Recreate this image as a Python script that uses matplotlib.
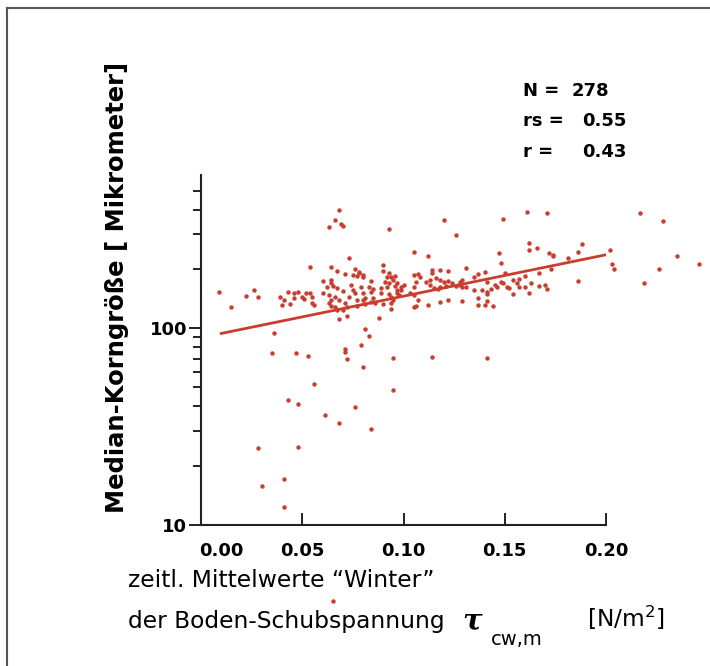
import numpy as np
import matplotlib
matplotlib.use('Agg')
import matplotlib.pyplot as plt
from matplotlib.ticker import FixedLocator, NullFormatter, FuncFormatter
from matplotlib.transforms import ScaledTranslation
from matplotlib.lines import Line2D

# mean winter bottom shear stress [N/m2] and median grain size [micrometre]
tau_winter = [
    0.009, 0.015, 0.022, 0.026, 0.028, 0.039, 0.041, 0.040, 0.043, 0.044,
    0.046, 0.048, 0.046, 0.050, 0.051, 0.052, 0.054, 0.055, 0.056, 0.055,
    0.054, 0.060, 0.062, 0.060, 0.063, 0.063, 0.063, 0.036, 0.035, 0.047,
    0.053, 0.056, 0.043, 0.048, 0.061, 0.028, 0.048, 0.030, 0.041, 0.041,
    0.064,
    0.068, 0.066, 0.069, 0.070, 0.093, 0.073, 0.064, 0.067, 0.076, 0.078,
    0.075, 0.077, 0.080, 0.080, 0.071, 0.078, 0.090, 0.090, 0.093, 0.092,
    0.094, 0.096, 0.097, 0.099, 0.100, 0.064, 0.065, 0.067, 0.070, 0.074,
    0.075, 0.076, 0.079, 0.080, 0.084, 0.083, 0.084, 0.085, 0.091, 0.093,
    0.095, 0.089, 0.092, 0.096, 0.097, 0.089, 0.093, 0.094, 0.097, 0.099,
    0.098, 0.073, 0.066, 0.068, 0.064, 0.090, 0.085, 0.084, 0.080, 0.081,
    0.077, 0.077, 0.071, 0.072, 0.070, 0.066, 0.067, 0.064, 0.095, 0.094,
    0.086, 0.081, 0.094, 0.088, 0.072, 0.068, 0.081, 0.083, 0.079, 0.071,
    0.071, 0.072, 0.080, 0.095, 0.095, 0.076, 0.068, 0.084,
    0.120, 0.126, 0.105, 0.112, 0.105, 0.107, 0.108, 0.106, 0.105, 0.103,
    0.105, 0.111, 0.113, 0.113, 0.114, 0.114, 0.118, 0.122, 0.116, 0.118,
    0.120, 0.122, 0.124, 0.126, 0.128, 0.129, 0.115, 0.117, 0.118, 0.121,
    0.122, 0.118, 0.129, 0.112, 0.107, 0.105, 0.106, 0.128, 0.129, 0.131,
    0.131, 0.114,
    0.149, 0.161, 0.171, 0.162, 0.162, 0.166, 0.172, 0.174, 0.174, 0.188,
    0.186, 0.147, 0.148, 0.135, 0.137, 0.140, 0.181, 0.173, 0.167, 0.160,
    0.186, 0.150, 0.154, 0.156, 0.157, 0.163, 0.148, 0.149, 0.151, 0.145,
    0.146, 0.141, 0.135, 0.139, 0.141, 0.141, 0.143, 0.152, 0.154, 0.157,
    0.160, 0.162, 0.167, 0.170, 0.171, 0.137, 0.137, 0.140, 0.141, 0.144,
    0.217, 0.228, 0.202, 0.203, 0.204, 0.235, 0.246, 0.226, 0.219, 0.141,
    0.065,
]
grain_median = [
    152, 128, 145, 156, 144, 144, 139, 131, 152, 132,
    151, 152, 142, 144, 140, 151, 151, 144, 131, 134,
    204, 173, 162, 151, 147, 134, 326, 94.3, 74.7, 74.7,
    72.1, 52.0, 43.1, 41.1, 36.2, 24.6, 24.9, 15.8, 17.1, 12.3,
    169,
    397, 353, 337, 329, 318, 227, 204, 195, 199, 192,
    186, 184, 186, 182, 188, 190, 209, 195, 190, 182,
    182, 184, 169, 162, 165, 175, 163, 160, 154, 165,
    156, 151, 162, 151, 173, 162, 152, 158, 171, 169,
    175, 160, 162, 163, 156, 151, 149, 144, 151, 156,
    147, 144, 144, 139, 139, 132, 142, 136, 139, 132,
    139, 129, 134, 128, 123, 128, 123, 129, 139, 134,
    134, 142, 125, 112, 115, 111, 98.5, 91.1, 82.0, 78.2,
    75.5, 69.6, 63.4, 70.4, 48.4, 39.7, 33.0, 30.7,
    353, 297, 243, 232, 186, 188, 182, 171, 162, 151,
    147, 171, 175, 165, 197, 190, 197, 195, 179, 175,
    171, 173, 169, 163, 171, 175, 160, 158, 162, 163,
    139, 136, 137, 131, 139, 128, 129, 165, 162, 162,
    202, 71.3,
    358, 388, 384, 270, 249, 255, 240, 235, 232, 267,
    243, 240, 214, 182, 188, 192, 227, 199, 190, 184,
    173, 190, 175, 169, 177, 169, 171, 169, 162, 165,
    162, 171, 156, 156, 152, 149, 158, 160, 149, 162,
    162, 151, 163, 165, 158, 142, 131, 131, 137, 129,
    384, 349, 249, 211, 199, 232, 211, 199, 169, 70.4,
    4.1,
]

# regression line (end points)
fit_tau = [0.010, 0.200]
fit_grain = [94, 236]

stats_names = ['N =', 'rs =', 'r =']
stats_values = ['278', '0.55', '0.43']

red = '#c93d2e'
W, H = 710, 666

fig = plt.figure(figsize=(W / 100, H / 100), dpi=100)
ax = fig.add_axes([201 / W, 141 / H, 405 / W, 350 / H])

ax.plot(tau_winter, grain_median, 'o', color=red, markersize=3.2, markeredgewidth=0, clip_on=False)
ax.plot(fit_tau, fit_grain, '-', color=red, lw=2)

ax.set_yscale('log')
ax.set_ylim(10, 600)
ax.set_xlim(0, 0.2)
for s in ['top', 'right']:
    ax.spines[s].set_visible(False)
for s in ['left', 'bottom']:
    ax.spines[s].set_linewidth(1.5)
    ax.spines[s].set_color('#222222')

ax.yaxis.set_major_locator(FixedLocator([10, 100]))
ax.yaxis.set_minor_locator(FixedLocator([20, 30, 40, 50, 60, 70, 80, 90, 200, 300, 400, 500]))
ax.yaxis.set_major_formatter(FuncFormatter(lambda v, p: '%g' % v))
ax.yaxis.set_minor_formatter(NullFormatter())
ax.tick_params(axis='y', which='major', direction='out', length=8.5, width=1.4, pad=1.5,
               labelsize=13, color='#222222')
ax.tick_params(axis='y', which='minor', direction='out', length=6, width=1.4, color='#222222')

ax.set_xticks([0.0, 0.05, 0.10, 0.15, 0.20])
ax.set_xticklabels(['0.00', '0.05', '0.10', '0.15', '0.20'])
ax.xaxis.set_minor_locator(FixedLocator([0.0]))
ax.tick_params(axis='x', which='major', direction='in', length=9, width=1.4, pad=12,
               labelsize=13, color='#222222')
ax.tick_params(axis='x', which='minor', direction='out', length=7, width=1.4, color='#222222')
for lbl in ax.get_xticklabels() + ax.get_yticklabels():
    lbl.set_fontweight('bold')
first = ax.get_xticklabels()[0]
first.set_transform(first.get_transform() + ScaledTranslation(0.2, 0, fig.dpi_scale_trans))

# axis titles
fig.text(117 / W, 1 - 287 / H, 'Median-Korngröße [ Mikrometer]', rotation=90,
         ha='center', va='center', fontsize=17.5, fontweight='bold')
fig.text(128 / W, 1 - 587 / H, 'zeitl. Mittelwerte \u201cWinter\u201d', fontsize=16.8, va='baseline')
fig.text(128 / W, 1 - 628 / H, 'der Boden-Schubspannung', fontsize=16.8, va='baseline')
fig.text(462 / W, 1 - 629 / H, '\u03c4', fontsize=21, fontstyle='italic', fontweight='bold',
         family='DejaVu Serif', va='baseline')
fig.text(491 / W, 1 - 645 / H, 'cw,m', fontsize=14, va='baseline')
fig.text(587 / W, 1 - 627 / H, '[N/m$^2$]', fontsize=16.8, va='baseline')

# statistics
stats_y = [96, 126, 157]
stats_x = [572, 582, 582]
for name, val, yy, xx in zip(stats_names, stats_values, stats_y, stats_x):
    fig.text(523 / W, 1 - yy / H, name, fontsize=13, fontweight='bold', va='baseline')
    fig.text(xx / W, 1 - yy / H, val, fontsize=13, fontweight='bold', va='baseline')

# page frame (top and left edges)
fig.add_artist(Line2D([7 / W, 1], [1 - 8 / H, 1 - 8 / H], color='#555555', lw=1.5))
fig.add_artist(Line2D([7 / W, 7 / W], [0, 1 - 8 / H], color='#555555', lw=1.5))

fig.savefig('out.png', dpi=100)
